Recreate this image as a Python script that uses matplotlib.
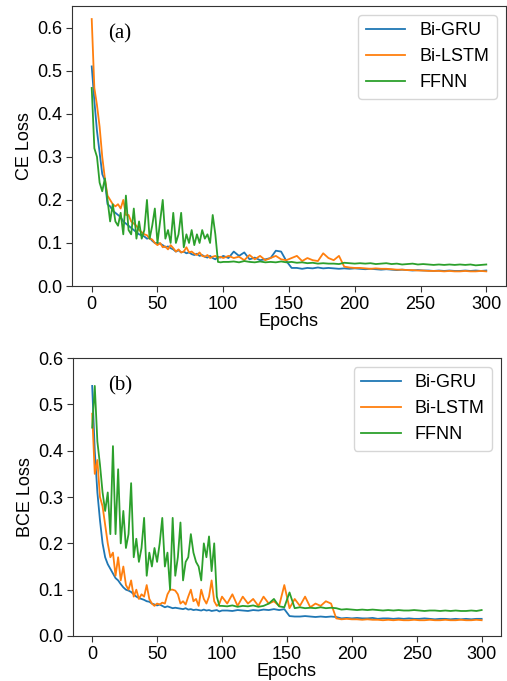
import matplotlib
matplotlib.use("Agg")
import matplotlib.pyplot as plt

plt.rcParams['font.family'] = ['Liberation Sans', 'DejaVu Sans']

# epochs sampled every 2 up to 100, then every 4
epochs = list(range(0, 101, 2)) + list(range(104, 301, 4))
models = ["Bi-GRU", "Bi-LSTM", "FFNN"]

ce_gru = [0.51, 0.43, 0.36, 0.31, 0.26, 0.245, 0.19, 0.185, 0.175, 0.17,
          0.165, 0.16, 0.15, 0.145, 0.14, 0.135, 0.13, 0.125, 0.12, 0.118,
          0.115, 0.11, 0.112, 0.105, 0.1, 0.1, 0.098, 0.095, 0.09, 0.092,
          0.088, 0.085, 0.08, 0.083, 0.078, 0.08, 0.076, 0.078, 0.074, 0.072,
          0.075, 0.07, 0.072, 0.068, 0.066, 0.07, 0.065, 0.062, 0.068, 0.066,
          0.07,
          0.065, 0.08, 0.07, 0.078, 0.062, 0.066, 0.06, 0.062, 0.065, 0.082,
          0.08, 0.058, 0.042, 0.042, 0.04, 0.042, 0.041, 0.043, 0.041, 0.042,
          0.041, 0.04, 0.041, 0.04, 0.041, 0.04, 0.039, 0.04, 0.039, 0.038,
          0.039, 0.038, 0.037, 0.038, 0.037, 0.036, 0.037, 0.036, 0.036, 0.035,
          0.036, 0.035, 0.036, 0.035, 0.035, 0.036, 0.035, 0.036, 0.035, 0.036]
ce_lstm = [0.62, 0.46, 0.42, 0.37, 0.30, 0.25, 0.21, 0.2, 0.19, 0.185,
           0.19, 0.18, 0.2, 0.165, 0.165, 0.15, 0.145, 0.14, 0.13, 0.125,
           0.12, 0.118, 0.11, 0.108, 0.1, 0.095, 0.1, 0.09, 0.092, 0.085,
           0.095, 0.088, 0.08, 0.085, 0.078, 0.08, 0.09, 0.078, 0.08, 0.075,
           0.072, 0.078, 0.07, 0.068, 0.072, 0.065, 0.068, 0.07, 0.065, 0.068,
           0.065,
           0.07, 0.065, 0.068, 0.06, 0.072, 0.062, 0.07, 0.06, 0.065, 0.07,
           0.062, 0.06, 0.065, 0.07, 0.058, 0.065, 0.06, 0.058, 0.076, 0.065,
           0.06, 0.07, 0.045, 0.043, 0.042, 0.042, 0.041, 0.04, 0.041, 0.04,
           0.04, 0.039, 0.038, 0.038, 0.037, 0.037, 0.036, 0.036, 0.035, 0.035,
           0.035, 0.034, 0.035, 0.034, 0.034, 0.035, 0.034, 0.034, 0.035, 0.034]
ce_ffnn = [0.46, 0.32, 0.30, 0.24, 0.22, 0.25, 0.2, 0.15, 0.19, 0.15,
           0.14, 0.17, 0.12, 0.21, 0.13, 0.12, 0.18, 0.11, 0.15, 0.11,
           0.13, 0.2, 0.11, 0.14, 0.18, 0.1, 0.15, 0.2, 0.11, 0.13,
           0.1, 0.17, 0.1, 0.12, 0.17, 0.09, 0.12, 0.1, 0.13, 0.095,
           0.12, 0.1, 0.13, 0.11, 0.12, 0.1, 0.165, 0.12, 0.056, 0.055,
           0.056,
           0.056, 0.057, 0.055, 0.058, 0.056, 0.055, 0.057, 0.055, 0.056, 0.055,
           0.057, 0.055, 0.056, 0.054, 0.055, 0.053, 0.054, 0.052, 0.053, 0.052,
           0.052, 0.051, 0.054, 0.053, 0.052, 0.053, 0.052, 0.053, 0.051, 0.052,
           0.053, 0.051, 0.052, 0.05, 0.051, 0.052, 0.05, 0.051, 0.05, 0.049,
           0.05, 0.049, 0.05, 0.049, 0.05, 0.049, 0.05, 0.048, 0.049, 0.05]

bce_gru = [0.54, 0.4, 0.31, 0.25, 0.2, 0.17, 0.155, 0.145, 0.135, 0.125,
           0.12, 0.112, 0.105, 0.1, 0.098, 0.095, 0.09, 0.085, 0.082, 0.08,
           0.078, 0.075, 0.074, 0.07, 0.068, 0.066, 0.068, 0.065, 0.062, 0.064,
           0.062, 0.06, 0.061, 0.06, 0.059, 0.058, 0.06, 0.057, 0.058, 0.056,
           0.057, 0.056, 0.055, 0.057, 0.055, 0.056, 0.054, 0.055, 0.056, 0.053,
           0.055,
           0.055, 0.054, 0.056, 0.055, 0.054, 0.056, 0.055, 0.057, 0.056, 0.058,
           0.056, 0.058, 0.043, 0.042, 0.042, 0.043, 0.042, 0.041, 0.042, 0.041,
           0.042, 0.041, 0.038, 0.039, 0.038, 0.039, 0.038, 0.038, 0.039, 0.037,
           0.038, 0.038, 0.037, 0.038, 0.037, 0.038, 0.037, 0.037, 0.038, 0.037,
           0.036, 0.037, 0.037, 0.036, 0.037, 0.036, 0.037, 0.036, 0.037, 0.037]
bce_lstm = [0.48, 0.35, 0.38, 0.3, 0.28, 0.24, 0.2, 0.17, 0.18, 0.13,
            0.17, 0.12, 0.15, 0.11, 0.1, 0.12, 0.085, 0.1, 0.08, 0.09,
            0.085, 0.11, 0.08, 0.07, 0.065, 0.07, 0.068, 0.072, 0.07, 0.09,
            0.1, 0.1, 0.098, 0.09, 0.07, 0.075, 0.068, 0.085, 0.1, 0.075,
            0.08, 0.065, 0.1, 0.08, 0.07, 0.085, 0.12, 0.075, 0.065, 0.07,
            0.085,
            0.07, 0.09, 0.065, 0.085, 0.07, 0.08, 0.065, 0.085, 0.07, 0.075,
            0.065, 0.11, 0.06, 0.08, 0.065, 0.085, 0.062, 0.07, 0.065, 0.075,
            0.07, 0.038, 0.036, 0.037, 0.036, 0.036, 0.035, 0.036, 0.035, 0.035,
            0.034, 0.035, 0.034, 0.035, 0.034, 0.034, 0.035, 0.034, 0.034, 0.035,
            0.034, 0.034, 0.035, 0.034, 0.034, 0.035, 0.034, 0.034, 0.035, 0.034]
bce_ffnn = [0.45, 0.54, 0.42, 0.37, 0.31, 0.27, 0.31, 0.22, 0.41, 0.22,
            0.36, 0.2, 0.27, 0.19, 0.22, 0.33, 0.17, 0.21, 0.16, 0.19,
            0.255, 0.13, 0.18, 0.15, 0.19, 0.16, 0.2, 0.255, 0.15, 0.18,
            0.1, 0.255, 0.13, 0.17, 0.245, 0.12, 0.16, 0.17, 0.22, 0.18,
            0.16, 0.15, 0.12, 0.2, 0.17, 0.215, 0.14, 0.2, 0.085, 0.065,
            0.065,
            0.064, 0.066, 0.063, 0.065, 0.064, 0.066, 0.063, 0.065, 0.07, 0.08,
            0.064, 0.062, 0.094, 0.06, 0.062, 0.06, 0.061, 0.06, 0.062, 0.06,
            0.061, 0.06, 0.057, 0.058, 0.057, 0.056, 0.057, 0.056, 0.057, 0.056,
            0.055, 0.056, 0.055, 0.056, 0.055, 0.055, 0.056, 0.055, 0.054, 0.055,
            0.055, 0.054, 0.055, 0.054, 0.055, 0.054, 0.054, 0.055, 0.054, 0.056]

colors = ["#1f77b4", "#ff7f0e", "#2ca02c"]

fig = plt.figure(figsize=(5.07, 6.81), dpi=100)
ax1 = fig.add_axes([0.142, 0.580, 0.856, 0.411])
ax2 = fig.add_axes([0.1434, 0.0661, 0.845, 0.408])

panels = [
    (ax1, [ce_gru, ce_lstm, ce_ffnn], "CE Loss", "(a)", 0.65),
    (ax2, [bce_gru, bce_lstm, bce_ffnn], "BCE Loss", "(b)", 0.6),
]

for ax, series, ylab, tag, ytop in panels:
    for name, vals, c in zip(models, series, colors):
        ax.plot(epochs, vals, color=c, lw=1.3, label=name)
    ax.set_xlim(-15, 315)
    ax.set_ylim(0, ytop)
    ax.set_xticks([0, 50, 100, 150, 200, 250, 300])
    ax.set_yticks([0.0, 0.1, 0.2, 0.3, 0.4, 0.5, 0.6])
    ax.tick_params(labelsize=13, length=4, color="#333333", pad=3)
    for s in ax.spines.values():
        s.set_color("#333333")
    ax.set_xlabel("Epochs", fontsize=13, labelpad=0)
    ax.set_ylabel(ylab, fontsize=13, labelpad=3)
    ax.text(0.083, 0.90, tag, transform=ax.transAxes, fontsize=15,
            family="Liberation Serif", va="center", ha="left")
    ax.legend(loc="upper right", fontsize=13, handlelength=2.2,
              borderaxespad=0.5)

fig.savefig("out.png", dpi=100)
